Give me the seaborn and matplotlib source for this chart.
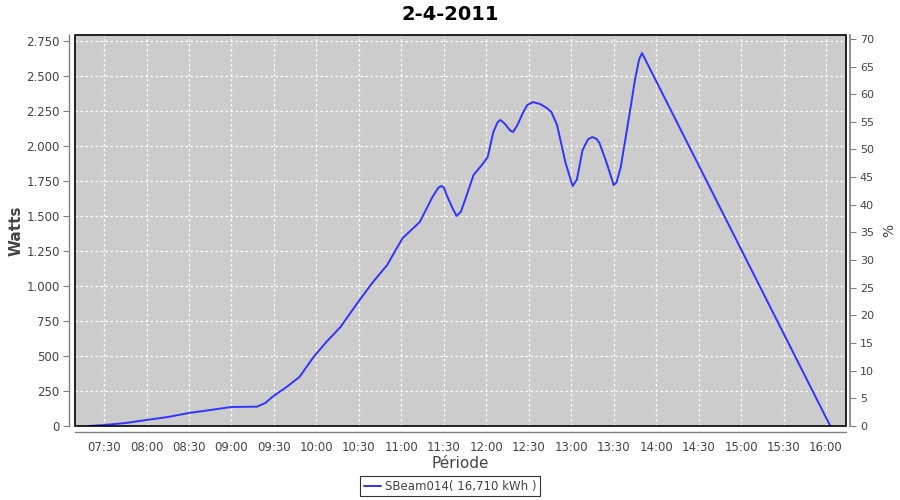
import numpy as np
import pandas as pd
import seaborn as sns
import matplotlib.pyplot as plt
from matplotlib.ticker import FuncFormatter
from matplotlib.patches import Rectangle

# Data
times = [
    "07:19", "07:30", "07:45", "08:00", "08:15", "08:30", "08:45", "09:00",
    "09:18", "09:24", "09:29", "09:39", "09:48", "09:58", "10:07", "10:17",
    "10:29", "10:40", "10:50", "10:56", "11:01", "11:13", "11:22", "11:26",
    "11:28", "11:30", "11:32", "11:36", "11:39", "11:42", "11:45", "11:51",
    "11:58", "12:01", "12:05", "12:08", "12:10", "12:13", "12:17", "12:19",
    "12:22", "12:26", "12:29", "12:33", "12:38", "12:43", "12:46", "12:50",
    "12:56", "13:01", "13:04", "13:08", "13:12", "13:15", "13:18", "13:20",
    "13:25", "13:30", "13:32", "13:35", "13:42", "13:45", "13:48", "13:50",
    "14:31", "16:03",
]
watts = [
    0, 7, 21, 43, 64, 93, 114, 136,
    138, 165, 209, 279, 350, 493, 600, 707,
    879, 1029, 1150, 1257, 1343, 1457, 1636, 1700,
    1714, 1705, 1650, 1560, 1500, 1530, 1614, 1793,
    1879, 1921, 2100, 2170, 2186, 2160, 2110, 2100,
    2150, 2240, 2293, 2314, 2300, 2270, 2243, 2150,
    1879, 1714, 1760, 1971, 2050, 2064, 2050, 2021,
    1880, 1721, 1740, 1850, 2279, 2471, 2620, 2664,
    1843, 0,
]
series_name = "SBeam014( 16,710 kWh )"

hours = [int(t[:2]) + int(t[3:]) / 60 for t in times]
df = pd.DataFrame({"heure": hours, "watts": watts})

sns.set_theme(style="white")
plt.rcParams["font.family"] = ["DejaVu Sans"]

fig = plt.figure(figsize=(9, 5), dpi=100)
ax = fig.add_axes([75 / 900, 74 / 500, 771 / 900, 391 / 500])

sns.lineplot(
    data=df,
    x="heure",
    y="watts",
    color="#3333ff",
    linewidth=1.4,
    ax=ax,
    label=series_name
)

ax.set_facecolor("#cccccc")
ax.set_xlim(7.158, 16.235)
ax.set_ylim(0, 2793)

# grid
ax.grid(True, color="white", linestyle=(0, (2, 2)), linewidth=0.9)
ax.set_axisbelow(True)

# x ticks
ax.set_xticks(np.arange(7.5, 16.01, 0.5))
ax.xaxis.set_major_formatter(
    FuncFormatter(lambda v, p: f"{int(v):02d}:{int(round((v % 1) * 60)):02d}")
)

# y ticks
ax.set_yticks(np.arange(0, 2751, 250))
ax.yaxis.set_major_formatter(
    FuncFormatter(lambda v, p: f"{int(v):,}".replace(",", "."))
)

ax.tick_params(
    axis="both",
    direction="out",
    length=4,
    width=0.8,
    color="#808080",
    labelsize=8.5,
    labelcolor="#444444",
    pad=3
)

for side in ["top", "right"]:
    ax.spines[side].set_visible(False)
for side in ["left", "bottom"]:
    ax.spines[side].set_position(("outward", 4))
    ax.spines[side].set_color("#808080")
    ax.spines[side].set_linewidth(1.0)

ax.add_patch(
    Rectangle(
        (0, 0), 1, 1,
        transform=ax.transAxes,
        fill=False,
        edgecolor="black",
        linewidth=1.2,
        zorder=5,
        clip_on=False
    )
)

ax.set_xlabel("Période", fontsize=11, color="#444444", labelpad=1)
ax.set_ylabel("Watts", fontsize=11, fontweight="bold", color="#444444", labelpad=2)

# right axis in %
ax2 = ax.twinx()
ax2.set_ylim(0, 70.7)
ax2.set_yticks(np.arange(0, 71, 5))
ax2.tick_params(
    axis="y",
    direction="out",
    length=4,
    width=0.8,
    color="#808080",
    labelsize=8,
    labelcolor="#444444",
    pad=3
)
for side in ["top", "left", "bottom"]:
    ax2.spines[side].set_visible(False)
ax2.spines["right"].set_position(("outward", 3))
ax2.spines["right"].set_color("#808080")
ax2.set_ylabel("%", fontsize=10, color="#444444", labelpad=6)

fig.suptitle("2-4-2011", fontsize=14, fontweight="bold", color="black", y=0.99, x=0.5)

handles, labels = ax.get_legend_handles_labels()
ax.get_legend().remove()
leg = fig.legend(
    handles,
    labels,
    loc="lower center",
    bbox_to_anchor=(0.5, 0.0),
    borderaxespad=0.3,
    fontsize=8.5,
    frameon=True,
    fancybox=False,
    edgecolor="black",
    handlelength=1.5,
    handletextpad=0.3,
    borderpad=0.3
)
leg.get_frame().set_linewidth(0.8)
for t in leg.get_texts():
    t.set_color("#444444")

plt.savefig("out.png", dpi=100)
plt.close()
